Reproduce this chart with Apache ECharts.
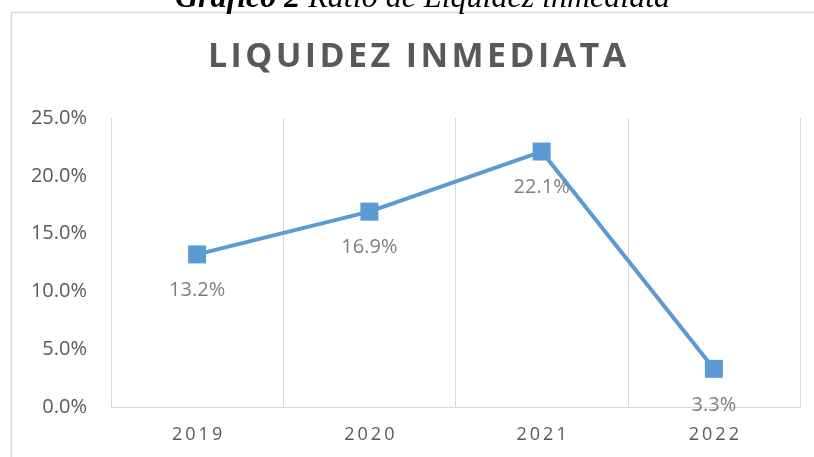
<!DOCTYPE html>
<html>
<head>
<meta charset="utf-8">
<script src="https://cdn.jsdelivr.net/npm/echarts@6/dist/echarts.min.js"></script>
<style>
  html, body { margin: 0; padding: 0; background: #fff; }
  #main { width: 814px; height: 457px; }
</style>
</head>
<body>
<div id="main"></div>
<script>
var years = ['2019', '2020', '2021', '2022']
var ratio = [13.2, 16.9, 22.1, 3.3]
var yTicks = { min: 0, max: 25, interval: 5 }

var myChart = echarts.init(document.getElementById('main'))

// spread letters a bit, like the office chart does
function spaced(s, gap) {
  return s.split('').join(gap)
}

var option = {
  animation: false,
  graphic: [
    {
      type: 'rect',
      shape: { x: 11.5, y: 12.5, width: 830, height: 460 },
      style: { fill: 'none', stroke: '#d9d9d9', lineWidth: 1.5 },
      z: 0
    },
    {
      type: 'text',
      left: 175,
      top: -17,
      style: {
        text: '{b|Gráfico 2} Ratio de Liquidez inmediata',
        rich: {
          b: { fontFamily: 'Liberation Serif', fontStyle: 'italic', fontWeight: 'bold', fontSize: 32, fill: '#000' }
        },
        fontFamily: 'Liberation Serif',
        fontStyle: 'italic',
        fontSize: 32,
        fill: '#000'
      }
    }
  ],
  title: {
    text: spaced('LIQUIDEZ INMEDIATA', '\u200A'),
    left: 203,
    top: 35,
    textStyle: {
      fontFamily: 'Open Sans',
      fontWeight: 'bold',
      fontSize: 34,
      color: '#595959'
    }
  },
  grid: {
    left: 111,
    right: 14,
    top: 118,
    bottom: 50
  },
  xAxis: {
    type: 'category',
    data: years,
    boundaryGap: true,
    axisLine: { show: true, lineStyle: { color: '#d9d9d9', width: 1 } },
    axisTick: { show: false },
    splitLine: { show: true, lineStyle: { color: '#d9d9d9', width: 1 } },
    axisLabel: {
      margin: 19,
      fontFamily: 'Open Sans',
      fontSize: 18,
      color: '#595959',
      formatter: function (v) { return spaced(v, '\u2009') }
    }
  },
  yAxis: {
    type: 'value',
    min: yTicks.min,
    max: yTicks.max,
    interval: yTicks.interval,
    axisLine: { show: false },
    axisTick: { show: false },
    splitLine: { show: false },
    axisLabel: {
      margin: 24,
      fontFamily: 'Open Sans',
      fontSize: 20,
      color: '#595959',
      formatter: function (v) { return v.toFixed(1) + '%' }
    }
  },
  series: [
    {
      type: 'line',
      data: ratio,
      symbol: 'rect',
      symbolSize: 18,
      lineStyle: { color: '#5b9bd5', width: 4 },
      itemStyle: { color: '#5b9bd5' },
      label: {
        show: true,
        position: 'bottom',
        distance: 17,
        fontFamily: 'Open Sans',
        fontSize: 20,
        color: '#7f7f7f',
        formatter: function (p) { return p.value.toFixed(1) + '%' }
      }
    }
  ]
}

myChart.setOption(option)
</script>
</body>
</html>
